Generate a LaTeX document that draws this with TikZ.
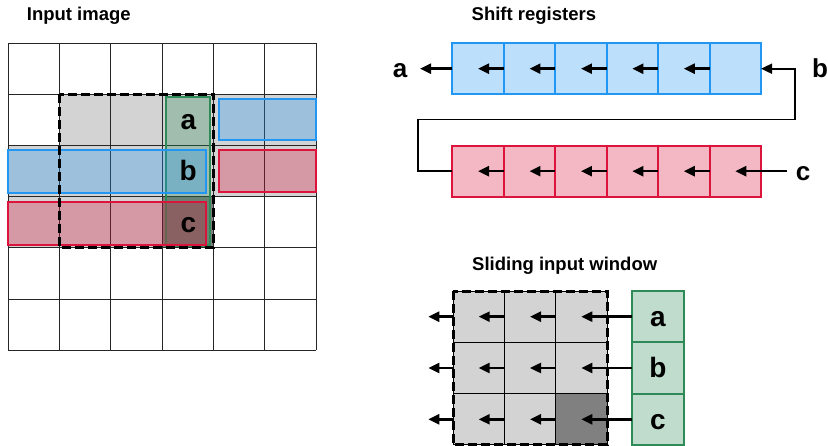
\documentclass[tikz,border=0pt]{standalone}
\usepackage{fontspec}
\setmainfont{Liberation Sans}
\usetikzlibrary{arrows.meta}
\definecolor{lgray}{HTML}{D3D3D3}
\definecolor{dgray}{HTML}{808080}
\definecolor{bluS}{HTML}{2196F3}
\definecolor{redS}{HTML}{DC143C}
\definecolor{grnS}{HTML}{2E8B57}
\begin{document}
\begin{tikzpicture}[x=1pt,y=-1pt,
  arr/.style={-{Triangle[length=11pt,width=10pt]}, line width=2.4pt},
  loopline/.style={-{Triangle[length=11pt,width=10pt]}, line width=1.8pt},
  title/.style={font=\fontsize{18.5}{20}\selectfont\bfseries, inner sep=0},
  lbl/.style={font=\fontsize{28}{30}\selectfont\bfseries, anchor=base, inner sep=0},
  slbl/.style={font=\fontsize{26}{28}\selectfont\bfseries, anchor=base, inner sep=0},
  gridline/.style={draw=black!85, line width=1pt},
  winborder/.style={line width=3pt, dash pattern=on 9pt off 4pt},
  bcell/.style={draw=bluS, line width=2pt, fill=bluS!30, minimum width=51.45pt, minimum height=50.7pt, inner sep=0, outer sep=0},
  rcell/.style={draw=redS, line width=2pt, fill=redS!30, minimum width=51.45pt, minimum height=51pt, inner sep=0, outer sep=0},
  wcell/.style={draw=black, line width=1pt, fill=lgray, minimum width=51.33pt, minimum height=51.33pt, inner sep=0, outer sep=0},
  gbox/.style={draw=grnS, line width=2pt, fill=grnS!30, minimum width=52pt, minimum height=51.33pt, inner sep=0, outer sep=0,
    font=\fontsize{28}{30}\selectfont\bfseries, text height=25.3pt, text depth=5.9pt},
  ovbox/.style={line width=2.2pt, fill opacity=0.3}
]
\useasboundingbox (0,0) rectangle (828,446);

% titles
\node[title, anchor=base west] (t1) at (26.7,20.7) {Input image};
\node[title, anchor=base west] (t2) at (471.5,20.5) {Shift registers};
\node[title, anchor=base] (t3) at (564.7,270.7) {Sliding input window};

% ---------- input image ----------
\fill[lgray] (59.63,94.47) rectangle (213.62,247.98);
\fill[lgray] (8.3,145.64) rectangle (59.63,247.98);
\fill[lgray] (213.62,94.47) rectangle (316.28,196.81);
\fill[dgray] (162.29,196.81) rectangle (213.62,247.98);
\foreach \i in {0,...,6} {
  \draw[gridline] ({8.3+\i*51.33},43.3) -- ({8.3+\i*51.33},350.32);
  \draw[gridline] (8.3,{43.3+\i*51.17}) -- (316.28,{43.3+\i*51.17});
}
\draw[ovbox, draw=grnS, fill=grnS] (166,97.3) rectangle (210,245.5);
\draw[ovbox, draw=bluS, fill=bluS] (8.3,150) rectangle (206,193.3);
\draw[ovbox, draw=redS, fill=redS] (8.3,201.7) rectangle (206,244.7);
\draw[ovbox, draw=bluS, fill=bluS] (219,98.7) rectangle (316.3,140.3);
\draw[ovbox, draw=redS, fill=redS] (219,149.7) rectangle (316.3,192.3);
\node[lbl] (ia) at (188.3,130) {a};
\node[lbl] (ib) at (188.3,180.8) {b};
\node[lbl] (ic) at (188.3,232.4) {c};
\draw[winborder] (59.63,94.47) rectangle (213.62,247.98);

% ---------- shift registers ----------
\foreach \k in {0,...,5} {
  \node[bcell] (b\k) at ({478.03+\k*51.45},68.7) {};
  \node[rcell] (r\k) at ({478.03+\k*51.45},171.2) {};
}
\foreach \k [evaluate=\k as \n using int(\k+1)] in {0,...,4} {
  \draw[arr] (b\n.west) -- (b\k.center);
  \draw[arr] (r\n.west) -- (r\k.center);
}
\coordinate (aend) at (420,68.7);
\draw[arr] (b0.west) -- (aend);
\node[slbl] (sa) at (400,77.7) {a};
\coordinate (k1) at (418,119.5);
\coordinate (k2) at (795,119.5);
\draw[loopline] (r0.west) -| (k1) -- (k2) |- (b5.east);
\node[slbl] (sb) at (820,77.7) {b};
\coordinate (cstart) at (787,171.2);
\draw[arr] (cstart) -- (r5.center);
\node[slbl] (sc) at (803,180.2) {c};

% ---------- sliding input window ----------
\foreach \r in {0,1,2} {
  \foreach \c in {0,1,2} {
    \node[wcell] (w\r\c) at ({478.67+\c*51.33},{316.67+\r*51.33}) {};
  }
}
\node[wcell, fill=dgray] (w22) at ({478.67+2*51.33},{316.67+2*51.33}) {};
\draw[winborder] (w00.north west) rectangle (w22.south east);
\node[gbox] (g0) at (658,316.67) {a};
\node[gbox] (g1) at (658,368.0) {b};
\node[gbox] (g2) at (658,419.33) {c};
\foreach \r in {0,1,2} {
  \coordinate (o\r) at (428.3,{316.67+\r*51.33});
  \draw[arr] (g\r.west) -- (w\r2.center);
  \draw[arr] (w\r2.west) -- (w\r1.center);
  \draw[arr] (w\r1.west) -- (w\r0.center);
  \draw[arr] (w\r0.west) -- (o\r);
}
\end{tikzpicture}
\end{document}
